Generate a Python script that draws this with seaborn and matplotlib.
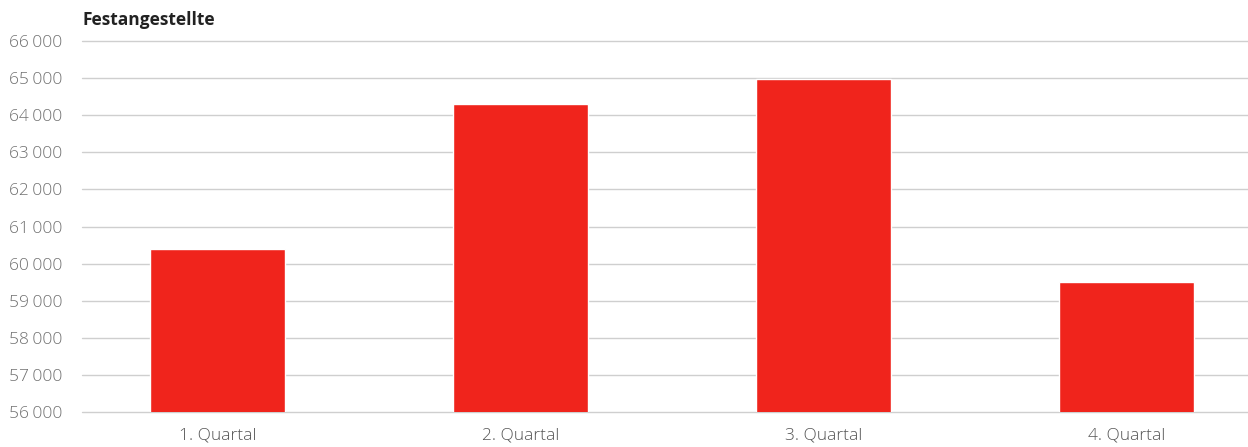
import matplotlib
matplotlib.use("Agg")
import matplotlib.pyplot as plt
import seaborn as sns
import pandas as pd

categories = ["1. Quartal", "2. Quartal", "3. Quartal", "4. Quartal"]
values = [60400, 64300, 64980, 59500]
y_ticks = [56000, 57000, 58000, 59000, 60000, 61000, 62000, 63000, 64000, 65000, 66000]
title = "Festangestellte"

sns.set_theme(style="white")
plt.rcParams['font.family'] = ['Open Sans', 'DejaVu Sans']

df = pd.DataFrame({"Quartal": categories, "Festangestellte": values})

fig = plt.figure(figsize=(12.48, 4.47), dpi=100)
ax = fig.add_axes([82/1248, 35/447, 1 - 82/1248, (412-41)/447])

sns.barplot(data=df, x="Quartal", y="Festangestellte", color="#f0241c",
            saturation=1, width=0.445, ax=ax, zorder=3)

ax.set_ylim(56000, 66000)
ax.set_xlim(-0.446, 3.40)
ax.set_yticks(y_ticks)
ax.set_yticklabels([f"{v:,}".replace(",", "\u2009") for v in y_ticks])
for s in ax.spines.values():
    s.set_visible(False)
ax.yaxis.grid(True, color="#cfcfcf", linewidth=1.0, zorder=0)
for gl in ax.yaxis.get_gridlines():
    gl.set_clip_on(False)
ax.xaxis.grid(False)
ax.tick_params(axis="y", length=0, pad=14, labelsize=12.5, labelcolor="#707070")
ax.tick_params(axis="x", length=0, pad=11, labelsize=12.5, labelcolor="#555555")
for lab in ax.get_yticklabels() + ax.get_xticklabels():
    lab.set_fontweight("light")
ax.set_xlabel("")
ax.set_ylabel("")
fig.text(82/1248, 1 - 20/447, title, fontsize=12.5, fontweight="bold",
         color="#222222", va="center", ha="left")

fig.savefig("out.png", dpi=100)
